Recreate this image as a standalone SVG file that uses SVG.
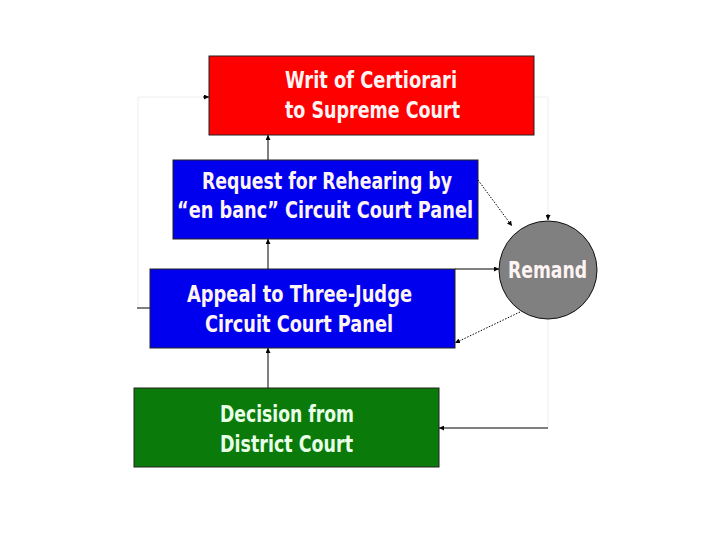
<svg xmlns="http://www.w3.org/2000/svg" width="720" height="540" viewBox="0 0 720 540">
<defs>
<marker id="ah" viewBox="0 0 10 10" refX="10" refY="5" markerWidth="5" markerHeight="5" orient="auto" markerUnits="userSpaceOnUse"><path d="M0,0 L10,5 L0,10 Z" fill="#000"/></marker>
<style>
.box{stroke:#222;stroke-width:1}
.t{font-family:"DejaVu Sans Condensed","DejaVu Sans",sans-serif;font-weight:bold;font-size:23px;fill:#fff4f4}
.ln{stroke:#000;stroke-width:1;fill:none}
.dot{stroke:#000;stroke-width:1;stroke-dasharray:1.5,1.5;fill:none}
.faint{stroke:#eeeeee;stroke-width:1;fill:none}
</style>
</defs>
<rect width="720" height="540" fill="#fff"/>
<g id="connectors">
<polyline class="faint" points="534,97 548,97 548,218"/>
<polyline class="faint" points="548,319 548,428"/>
<polyline class="faint" points="138,308 138,97 205,97"/>
<line class="ln" x1="203" y1="97" x2="209" y2="97" marker-end="url(#ah)"/>
<line class="ln" x1="548" y1="214" x2="548" y2="220" marker-end="url(#ah)"/>
<line class="ln" x1="268" y1="160" x2="268" y2="135" marker-end="url(#ah)"/>
<line class="ln" x1="268" y1="269" x2="268" y2="239" marker-end="url(#ah)"/>
<line class="ln" x1="268" y1="388" x2="268" y2="348" marker-end="url(#ah)"/>
<line class="ln" x1="455" y1="269" x2="499" y2="269" marker-end="url(#ah)"/>
<line class="dot" x1="478" y1="180" x2="512" y2="226" marker-end="url(#ah)"/>
<line class="dot" x1="520" y1="312" x2="455" y2="343" marker-end="url(#ah)"/>
<line class="ln" x1="548" y1="428" x2="439" y2="428" marker-end="url(#ah)"/>
<line class="ln" x1="137" y1="308" x2="150" y2="308"/>
</g>
<g id="writ">
<rect class="box" x="209" y="56" width="325" height="79" fill="#ff0000"/>
<text class="t" x="285" y="88" textLength="172" lengthAdjust="spacingAndGlyphs">Writ of Certiorari</text>
<text class="t" x="285" y="118" textLength="175" lengthAdjust="spacingAndGlyphs">to Supreme Court</text>
</g>
<g id="rehearing">
<rect class="box" x="173" y="160" width="305" height="79" fill="#0000ee"/>
<text class="t" x="202" y="189" textLength="250" lengthAdjust="spacingAndGlyphs" fill="#f4f4ff">Request for Rehearing by</text>
<text class="t" x="177" y="218" textLength="296" lengthAdjust="spacingAndGlyphs">“en banc” Circuit Court Panel</text>
</g>
<g id="appeal">
<rect class="box" x="150" y="269" width="305" height="79" fill="#0000ee"/>
<text class="t" x="187" y="302" textLength="225" lengthAdjust="spacingAndGlyphs">Appeal to Three-Judge</text>
<text class="t" x="205" y="332" textLength="188" lengthAdjust="spacingAndGlyphs">Circuit Court Panel</text>
</g>
<g id="decision">
<rect class="box" x="134" y="388" width="305" height="79" fill="#0a7a0a"/>
<text class="t" x="220" y="422" textLength="134" lengthAdjust="spacingAndGlyphs" style="fill:#e8ffe8">Decision from</text>
<text class="t" x="220" y="452" textLength="133" lengthAdjust="spacingAndGlyphs" style="fill:#e8ffe8">District Court</text>
</g>
<g id="remand">
<circle cx="548" cy="270" r="49" fill="#808080" stroke="#111" stroke-width="1"/>
<text class="t" x="508" y="278" textLength="79" lengthAdjust="spacingAndGlyphs">Remand</text>
</g>
</svg>
